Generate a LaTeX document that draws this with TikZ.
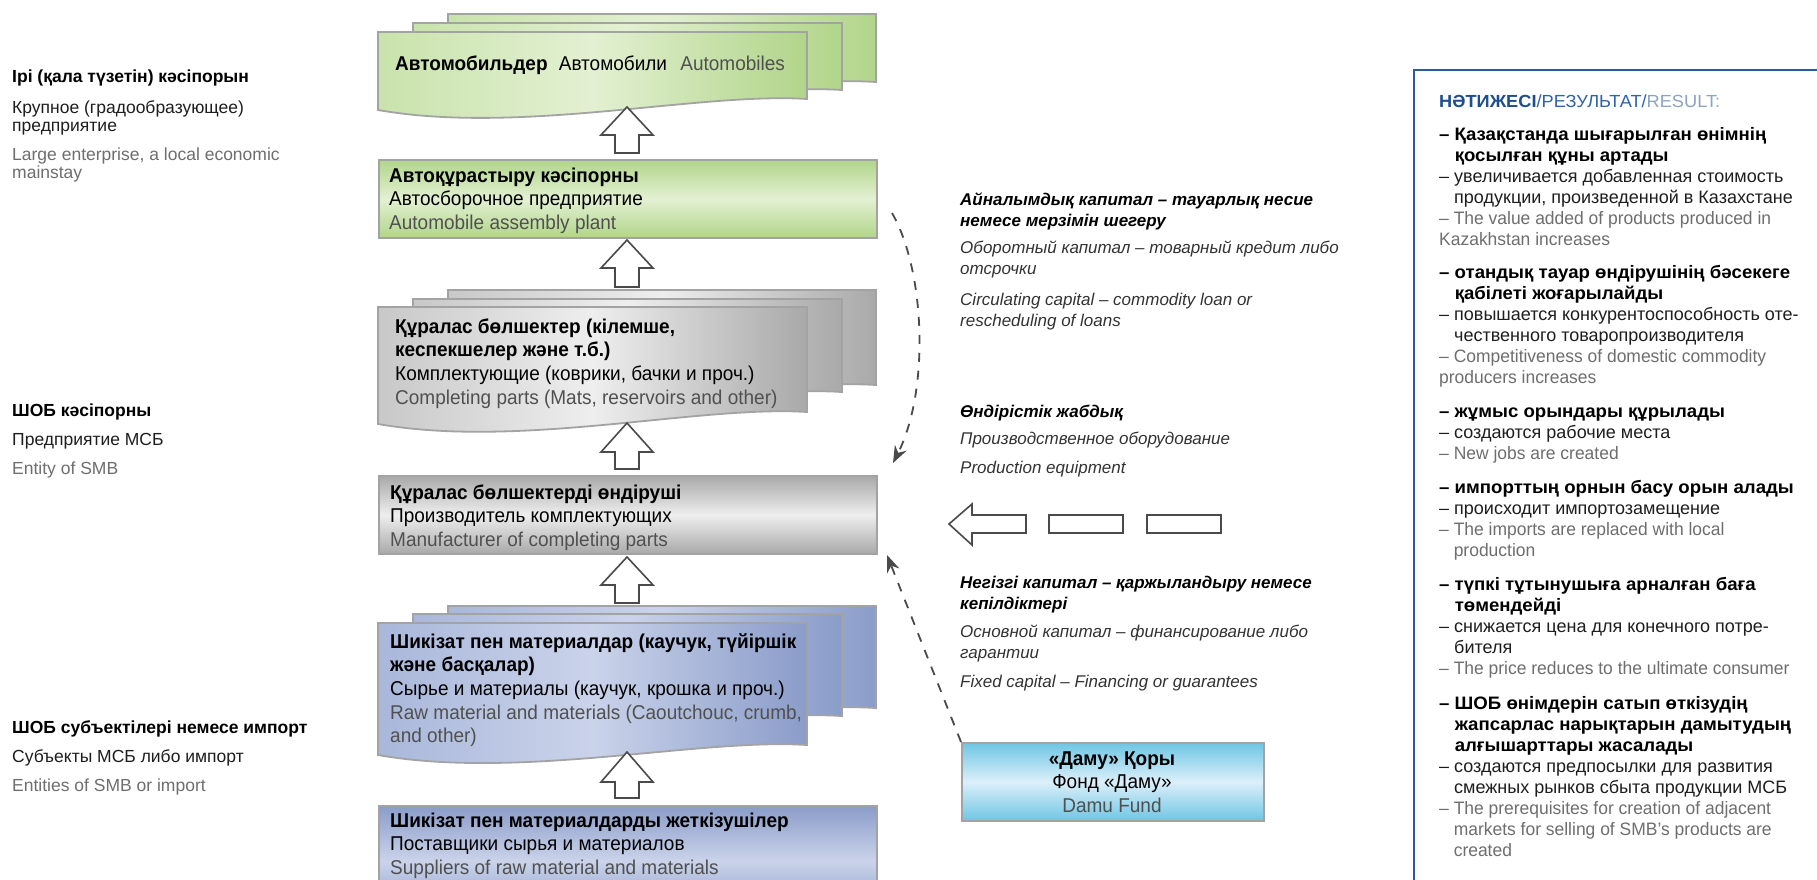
\documentclass[tikz,border=0pt]{standalone}
\usepackage{fontspec}
\setmainfont{Liberation Sans}
\newfontfamily\condf[FakeStretch=0.95]{Liberation Sans}
\newfontfamily\titlef[FakeStretch=1.04]{Liberation Sans}
\newfontfamily\rbold[FakeStretch=1.035]{Liberation Sans}
\newfontfamily\reng[FakeStretch=0.97]{Liberation Sans}
\usetikzlibrary{arrows.meta,calc}

\definecolor{gD}{HTML}{B1D58A}
\definecolor{gM}{HTML}{C9E3AC}
\definecolor{gL}{HTML}{E3F0D2}
\definecolor{sD}{HTML}{A9A9A9}
\definecolor{sM}{HTML}{C8C8C8}
\definecolor{sL}{HTML}{EEEEEE}
\definecolor{bD}{HTML}{8A9CC9}
\definecolor{bM}{HTML}{A9B7DA}
\definecolor{bL}{HTML}{CAD3EA}
\definecolor{cyD}{HTML}{6EC6E4}
\definecolor{cyL}{HTML}{DCEFFA}
\definecolor{bordergray}{HTML}{A3A3A3}
\definecolor{arrgray}{HTML}{4A4A4A}
\definecolor{panelblue}{HTML}{2B5C9E}
\definecolor{tA}{HTML}{1F4E8F}
\definecolor{tB}{HTML}{2E63A8}
\definecolor{tC}{HTML}{8CA3C3}
\definecolor{eng}{HTML}{6E6E6E}
\definecolor{boxeng}{HTML}{505050}
\definecolor{rus}{HTML}{1E1E1E}
\definecolor{ital}{HTML}{333333}

\newcommand\vlines[1]{\vtop{\lineskiplimit=-100pt\relax\halign{\begingroup##\endgroup\hfil\cr#1\crcr}}}
\newcommand\clines[1]{\vtop{\lineskiplimit=-100pt\relax\halign{\hfil\begingroup##\endgroup\hfil\cr#1\crcr}}}
\newcommand\boxfont{\condf\fontsize{20}{23.7}\selectfont}
\newcommand\leftfont{\fontsize{17.5}{18.5}\selectfont}
\newcommand\rightfont{\fontsize{18}{21.1}\selectfont}
\newcommand\italfont{\itshape\fontsize{17}{21}\selectfont}
\newcommand\ind{\hphantom{–~}}
\newcommand\kz{\rbold\bfseries}
\newcommand\ru{\color{rus}}
\newcommand\en{\reng\color{eng}}

\newcommand\sheet[6]{\path[sheetline,#6] (#1,#2) -- (#3,#2) -- (#3,#4) .. controls ({#3-107},{#4-7}) and ({#1+142},{#5+25}) .. (#1,#5) -- cycle;}
\newcommand\hollowup[4]{\draw[hollow] (#1,#2) -- ({#1+26},#3) -- ({#1+12},#3) -- ({#1+12},#4) -- ({#1-12},#4) -- ({#1-12},#3) -- ({#1-26},#3) -- cycle;}

\tikzset{
  sheetline/.style={draw=bordergray, line width=1.8pt, line join=miter},
  greensheet/.style={left color=gM, right color=gD, middle color=gL},
  graysheet/.style={left color=sM, right color=sD, middle color=sL},
  bluesheet/.style={left color=bM, right color=bD, middle color=bL},
  flatbox/.style={draw=bordergray, line width=1.8pt, inner sep=0pt, anchor=north west, minimum width=498pt, minimum height=78pt},
  greenbox/.style={top color=gD, bottom color=gD, middle color=gL},
  graybox/.style={top color=sD, bottom color=sD, middle color=sL},
  bluebox/.style={top color=bD, bottom color=bD, middle color=bL},
  cyanbox/.style={top color=cyD, bottom color=cyD, middle color=cyL},
  boxtext/.style={anchor=base west, inner sep=0pt, font=\boxfont},
  lefttext/.style={anchor=base west, inner sep=0pt, font=\leftfont},
  righttext/.style={anchor=base west, inner sep=0pt, font=\rightfont},
  italtext/.style={anchor=base west, inner sep=0pt, font=\italfont},
  hollow/.style={draw=arrgray, fill=white, line width=1.6pt, line join=miter},
  dasharrow/.style={draw=arrgray, line width=1.8pt, dash pattern=on 9pt off 9pt, -{Stealth[length=17pt,width=13pt]}},
  barbox/.style={draw=arrgray, fill=white, line width=1.6pt, minimum width=74pt, minimum height=18pt, inner sep=0pt}
}

\begin{document}
\begin{tikzpicture}[x=1pt,y=-1pt]
\useasboundingbox (0,0) rectangle (1817,879);
\clip (0,0) rectangle (1817,879);
\fill[white] (0,0) rectangle (1817,879);

% ---------- left column ----------
\node[lefttext] (l1a) at (12,82) {\bfseries Ірі (қала түзетін) кәсіпорын};
\node[lefttext] (l1b) at (12,113) {\vlines{\ru Крупное (градообразующее)\cr\ru предприятие}};
\node[lefttext] (l1c) at (12,160) {\vlines{\color{eng}Large enterprise, a local economic\cr\color{eng}mainstay}};
\node[lefttext] (l2a) at (12,416) {\bfseries ШОБ кәсіпорны};
\node[lefttext,text=rus] (l2b) at (12,445) {Предприятие МСБ};
\node[lefttext,text=eng] (l2c) at (12,474) {Entity of SMB};
\node[lefttext] (l3a) at (12,733) {\bfseries ШОБ субъектілері немесе импорт};
\node[lefttext,text=rus] (l3b) at (12,762) {Субъекты МСБ либо импорт};
\node[lefttext,text=eng] (l3c) at (12,791) {Entities of SMB or import};

% ---------- automobiles sheets ----------
\sheet{448}{14}{876}{82}{93}{greensheet}
\sheet{413}{23}{842}{90}{101}{greensheet}
\sheet{378}{32}{807}{99}{110}{greensheet}
\node[boxtext] (autos) at (395,70) {{\bfseries Автомобильдер}\hspace{6pt} Автомобили\hspace{8pt} {\color{boxeng}Automobiles}};

% ---------- assembly plant ----------
\node[flatbox,greenbox] (assembly) at (378,159) {};
\node[boxtext] (assemblyt) at (389,182) {\vlines{\bfseries Автоқұрастыру кәсіпорны\cr Автосборочное предприятие\cr\color{boxeng}Automobile assembly plant}};

% ---------- components sheets ----------
\sheet{448}{290}{876}{385}{396}{graysheet}
\sheet{413}{299}{842}{392}{403}{graysheet}
\sheet{378}{307}{807}{412}{424}{graysheet}
\node[boxtext] (compt) at (395,333) {\vlines{\bfseries Құралас бөлшектер (кілемше,\cr\bfseries кеспекшелер және т.б.)\cr Комплектующие (коврики, бачки и проч.)\cr\color{boxeng}Completing parts (Mats, reservoirs and other)}};

% ---------- manufacturer ----------
\node[flatbox,graybox] (manuf) at (378,475) {};
\node[boxtext] (manuft) at (390,499) {\vlines{\bfseries Құралас бөлшектерді өндіруші\cr Производитель комплектующих\cr\color{boxeng}Manufacturer of completing parts}};

% ---------- raw materials sheets ----------
\sheet{448}{606}{876}{708}{719}{bluesheet}
\sheet{413}{614}{842}{716}{727}{bluesheet}
\sheet{378}{623}{807}{745}{755}{bluesheet}
\node[boxtext] (rawt) at (390,648) {\vlines{\bfseries Шикізат пен материалдар (каучук, түйіршік\cr\bfseries және басқалар)\cr Сырье и материалы (каучук, крошка и проч.)\cr\color{boxeng}Raw material and materials (Caoutchouc, crumb,\cr\color{boxeng}and other)}};

% ---------- suppliers ----------
\node[flatbox,bluebox,minimum height=110pt] (suppl) at (378,805) {};
\node[boxtext] (supplt) at (390,827) {\vlines{\bfseries Шикізат пен материалдарды жеткізушілер\cr Поставщики сырья и материалов\cr\color{boxeng}Suppliers of raw material and materials}};

% ---------- hollow up arrows ----------
\hollowup{627}{107}{135}{153}
\hollowup{627}{240}{268}{287}
\hollowup{627}{423}{452}{469}
\hollowup{627}{557}{585}{603}
\hollowup{627}{752}{782}{798}

% ---------- middle italic texts ----------
\node[italtext] (ia1) at (960,205) {\vlines{\bfseries Айналымдық капитал – тауарлық несие\cr\bfseries немесе мерзімін шегеру}};
\node[italtext,text=ital] (ia2) at (960,253) {\vlines{Оборотный капитал – товарный кредит либо\cr отсрочки}};
\node[italtext,text=ital] (ia3) at (960,305) {\vlines{Circulating capital – commodity loan or\cr rescheduling of loans}};
\node[italtext] (ib1) at (960,417) {\bfseries Өндірістік жабдық};
\node[italtext,text=ital] (ib2) at (960,444) {Производственное оборудование};
\node[italtext,text=ital] (ib3) at (960,473) {Production equipment};
\node[italtext] (ic1) at (960,588) {\vlines{\bfseries Негізгі капитал – қаржыландыру немесе\cr\bfseries кепілдіктері}};
\node[italtext,text=ital] (ic2) at (960,637) {\vlines{Основной капитал – финансирование либо\cr гарантии}};
\node[italtext,text=ital] (ic3) at (960,687) {Fixed capital – Financing or guarantees};

% ---------- equipment arrow ----------
\draw[hollow] (949,524) -- (972,504) -- (972,515) -- (1026,515) -- (1026,533) -- (972,533) -- (972,545) -- cycle;
\node[barbox] (bar1) at (1086,524) {};
\node[barbox] (bar2) at (1184,524) {};

% ---------- Damu fund ----------
\node[flatbox,cyanbox,minimum width=302pt] (damu) at (961,742) {};
\node[anchor=base, inner sep=0pt, font=\boxfont] (damut) at (1112,765) {\clines{\bfseries «Даму» Қоры\cr Фонд «Даму»\cr\color{boxeng}Damu Fund}};

% ---------- dashed arrows ----------
\coordinate (dA1) at (892,213);
\coordinate (dA2) at (893,463);
\draw[dasharrow] (dA1) .. controls (925,270) and (930,390) .. (dA2);
\coordinate (dB2) at (887,555);
\draw[dasharrow] (damu.north west) -- (dB2);

% ---------- right panel ----------
\draw[draw=panelblue, line width=2.5pt] (1414,70) rectangle (1840,900);
\node[anchor=base west, inner sep=0pt, font=\titlef\fontsize{17.5}{20}\selectfont] (title) at (1439,107) {{\bfseries\color{tA}НӘТИЖЕСІ}{\color{tB}/РЕЗУЛЬТАТ/}{\color{tC}RESULT:}};
\node[righttext] (r1) at (1439,140) {\vlines{\kz – Қазақстанда шығарылған өнімнің\cr\kz\ind қосылған құны артады\cr\ru – увеличивается добавленная стоимость\cr\ru\ind продукции, произведенной в Казахстане\cr\en – The value added of products produced in\cr\en Kazakhstan increases}};
\node[righttext] (r2) at (1439,278) {\vlines{\kz – отандық тауар өндірушінің бәсекеге\cr\kz\ind қабілеті жоғарылайды\cr\ru – повышается конкурентоспособность оте-\cr\ru\ind чественного товаропроизводителя\cr\en – Competitiveness of domestic commodity\cr\en producers increases}};
\node[righttext] (r3) at (1439,417) {\vlines{\kz – жұмыс орындары құрылады\cr\ru – создаются рабочие места\cr\en – New jobs are created}};
\node[righttext] (r4) at (1439,493) {\vlines{\kz – импорттың орнын басу орын алады\cr\ru – происходит импортозамещение\cr\en – The imports are replaced with local\cr\en\ind production}};
\node[righttext] (r5) at (1439,590) {\vlines{\kz – түпкі тұтынушыға арналған баға\cr\kz\ind төмендейді\cr\ru – снижается цена для конечного потре-\cr\ru\ind бителя\cr\en – The price reduces to the ultimate consumer}};
\node[righttext] (r6) at (1439,709) {\vlines{\kz – ШОБ өнімдерін сатып өткізудің\cr\kz\ind жапсарлас нарықтарын дамытудың\cr\kz\ind алғышарттары жасалады\cr\ru – создаются предпосылки для развития\cr\ru\ind смежных рынков сбыта продукции МСБ\cr\en – The prerequisites for creation of adjacent\cr\en\ind markets for selling of SMB’s products are\cr\en\ind created}};
\end{tikzpicture}
\end{document}
